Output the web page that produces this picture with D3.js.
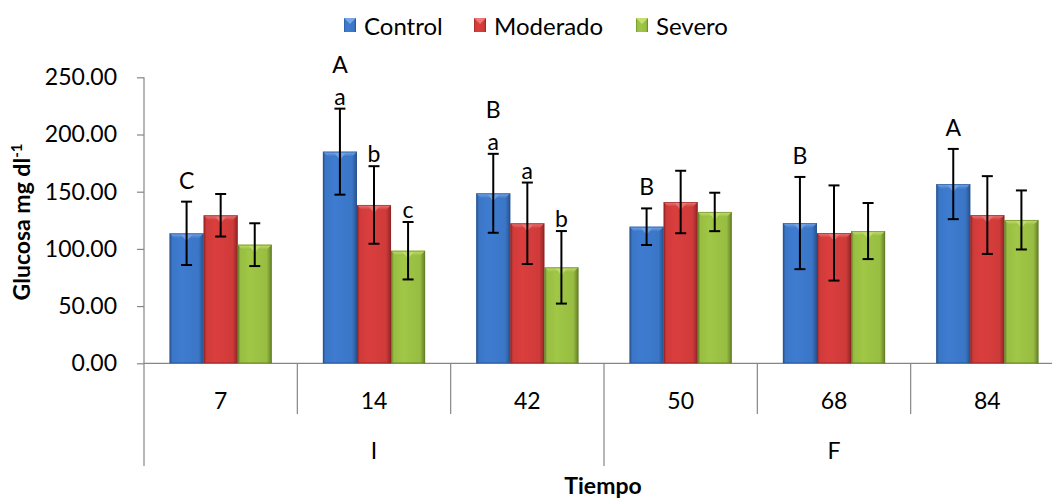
<!DOCTYPE html>
<html>
<head>
<meta charset="utf-8">
<script src="https://cdn.jsdelivr.net/npm/d3@7"></script>
<style>
  html, body { margin: 0; padding: 0; background: #fff; }
  svg { display: block; font-family: Lato, "Open Sans", sans-serif; }
</style>
</head>
<body>
<svg id="chart" width="1052" height="500"></svg>
<script>
// Glucose by sampling day and treatment
const categories = ["7", "14", "42", "50", "68", "84"];
const groups = [
  { label: "I", span: ["7", "14", "42"] },
  { label: "F", span: ["50", "68", "84"] }
];
const series = ["Control", "Moderado", "Severo"];

const control  = [113.6, 185.0, 148.6, 119.4, 122.6, 156.7];
const moderado = [129.4, 138.4, 122.4, 141.0, 113.9, 129.6];
const severo   = [103.7,  98.4,  83.9, 132.3, 115.6, 125.3];

const controlErr  = [27.7, 37.6, 34.5, 16.0, 40.3, 30.7];
const moderadoErr = [18.6, 33.9, 35.6, 27.3, 41.6, 34.0];
const severoErr   = [18.7, 25.1, 31.7, 16.8, 24.5, 25.8];

// Significance letters: upper case compares days, lower case compares treatments
const dayLetters   = ["C", "A", "B", "B", "B", "A"];
const controlSig   = ["", "a", "a", "", "", ""];
const moderadoSig  = ["", "b", "a", "", "", ""];
const severoSig    = ["", "c", "b", "", "", ""];

const yTicks = [0, 50, 100, 150, 200, 250];

const values = [control, moderado, severo];
const errors = [controlErr, moderadoErr, severoErr];
const sigs = [controlSig, moderadoSig, severoSig];

const palette = {
  Control:  { base: "#3b76c6", light: "#79a8ea", dark: "#27528f" },
  Moderado: { base: "#cf3b3a", light: "#ee7a77", dark: "#8f2525" },
  Severo:   { base: "#98bd42", light: "#c4e06e", dark: "#637f28" }
};

const svg = d3.select("#chart");
const plotLeft = 144, plotRight = 1064, plotTop = 77.3, plotBottom = 363.3;

const x = d3.scaleBand().domain(categories).range([plotLeft, plotRight])
  .paddingInner(1 / 3).paddingOuter(1 / 6);
const xs = d3.scaleBand().domain(series).range([0, x.bandwidth()]);
const y = d3.scaleLinear().domain([0, 250]).range([plotBottom, plotTop]);
const step = x.step();
const catLeft = c => x(c) - step / 6;

// Gradients for the bevelled bar faces
const defs = svg.append("defs");
series.forEach((s, i) => {
  const p = palette[s];
  const g = defs.append("linearGradient").attr("id", "face" + i)
    .attr("x1", "0").attr("x2", "1").attr("y1", "0").attr("y2", "0");
  g.append("stop").attr("offset", "0").attr("stop-color", p.dark);
  g.append("stop").attr("offset", "0.08").attr("stop-color", p.base);
  g.append("stop").attr("offset", "0.35").attr("stop-color", d3.color(p.base).brighter(0.15));
  g.append("stop").attr("offset", "0.85").attr("stop-color", p.base);
  g.append("stop").attr("offset", "1").attr("stop-color", p.dark);
  const t = defs.append("linearGradient").attr("id", "cap" + i)
    .attr("x1", "0").attr("x2", "0").attr("y1", "0").attr("y2", "1");
  t.append("stop").attr("offset", "0").attr("stop-color", p.light);
  t.append("stop").attr("offset", "1").attr("stop-color", p.base);
});

// Axes
const axisColor = "#868686";
const gAxis = svg.append("g");
gAxis.append("line").attr("x1", plotLeft).attr("x2", plotLeft).attr("y1", plotTop).attr("y2", 466)
  .attr("stroke", axisColor).attr("stroke-width", 1.2);
gAxis.append("line").attr("x1", plotLeft).attr("x2", plotRight).attr("y1", plotBottom).attr("y2", plotBottom)
  .attr("stroke", axisColor).attr("stroke-width", 1.2);

const yAxis = d3.axisLeft(y).tickValues(yTicks).tickSize(7).tickFormat(d3.format(".2f"));
const gy = svg.append("g").attr("transform", `translate(${plotLeft},0)`).call(yAxis);
gy.select(".domain").remove();
gy.selectAll(".tick line").attr("stroke", axisColor).attr("stroke-width", 1.2);
gy.selectAll(".tick text").attr("x", -27).attr("font-size", 23).attr("fill", "#000")
  .attr("font-family", "Lato, 'Open Sans', sans-serif");

// Category separators and labels
categories.forEach((c, i) => {
  if (i > 0) {
    const isGroupEdge = groups.some(g => g.span[0] === c);
    gAxis.append("line").attr("x1", catLeft(c)).attr("x2", catLeft(c))
      .attr("y1", plotBottom).attr("y2", isGroupEdge ? 466 : 414)
      .attr("stroke", axisColor).attr("stroke-width", 1.2);
  }
  svg.append("text").attr("x", x(c) + x.bandwidth() / 2).attr("y", 400)
    .attr("text-anchor", "middle").attr("dominant-baseline", "central")
    .attr("font-size", 23).text(c);
});
groups.forEach(g => {
  const a = catLeft(g.span[0]);
  const b = catLeft(g.span[g.span.length - 1]) + step;
  svg.append("text").attr("x", (a + b) / 2).attr("y", 450)
    .attr("text-anchor", "middle").attr("dominant-baseline", "central")
    .attr("font-size", 23).text(g.label);
});

svg.append("text").attr("x", 603).attr("y", 494).attr("text-anchor", "middle")
  .attr("font-size", 23).attr("font-weight", "bold").text("Tiempo");

const yTitle = svg.append("text")
  .attr("transform", "translate(30,222) rotate(-90)")
  .attr("text-anchor", "middle").attr("font-size", 23).attr("font-weight", "bold");
yTitle.append("tspan").text("Glucosa mg dl");
yTitle.append("tspan").attr("dy", -8).attr("font-size", 15).text("-1");

// Bars
series.forEach((s, si) => {
  const g = svg.append("g");
  categories.forEach((c, ci) => {
    const v = values[si][ci];
    const x0 = x(c) + xs(s), w = xs.bandwidth();
    const y0 = y(v), h = y(0) - y(v);
    const bev = 5;
    g.append("rect").attr("x", x0).attr("y", y0).attr("width", w).attr("height", h)
      .attr("fill", `url(#face${si})`);
    g.append("path")
      .attr("d", `M${x0},${y0}L${x0 + w},${y0}L${x0 + w - bev},${y0 + bev}L${x0 + bev},${y0 + bev}Z`)
      .attr("fill", `url(#cap${si})`);
    g.append("path")
      .attr("d", `M${x0 + w / 2 - 6},${y0 + 1}L${x0 + w / 2 + 6},${y0 + 1}L${x0 + w / 2},${y0 + bev + 3}Z`)
      .attr("fill", palette[s].light).attr("opacity", 0.8);
    g.append("rect").attr("x", x0 + 0.5).attr("y", y0 + 0.5).attr("width", w - 1).attr("height", h - 1)
      .attr("fill", "none").attr("stroke", palette[s].dark).attr("stroke-opacity", 0.6);
  });
});

// Error bars
series.forEach((s, si) => {
  categories.forEach((c, ci) => {
    const cx = x(c) + xs(s) + xs.bandwidth() / 2;
    const hi = y(values[si][ci] + errors[si][ci]);
    const lo = y(values[si][ci] - errors[si][ci]);
    const eb = svg.append("g").attr("stroke", "#000").attr("stroke-width", 2);
    eb.append("line").attr("x1", cx).attr("x2", cx).attr("y1", hi).attr("y2", lo);
    eb.append("line").attr("x1", cx - 5.5).attr("x2", cx + 5.5).attr("y1", hi).attr("y2", hi);
    eb.append("line").attr("x1", cx - 5.5).attr("x2", cx + 5.5).attr("y1", lo).attr("y2", lo);
  });
});

// Significance letters
categories.forEach((c, ci) => {
  let anchorTop = null;
  series.forEach((s, si) => {
    const letter = sigs[si][ci];
    const cx = x(c) + xs(s) + xs.bandwidth() / 2;
    const errTop = y(values[si][ci] + errors[si][ci]);
    if (letter) {
      const cy = errTop - 13;
      svg.append("text").attr("x", cx).attr("y", cy).attr("text-anchor", "middle")
        .attr("dominant-baseline", "central").attr("font-size", 23).text(letter);
      if (si === 0) anchorTop = cy - 32;
    }
  });
  const cx0 = x(c) + xs(series[0]) + xs.bandwidth() / 2;
  const cy0 = anchorTop !== null ? anchorTop : y(values[0][ci] + errors[0][ci]) - 22;
  svg.append("text").attr("x", cx0).attr("y", cy0).attr("text-anchor", "middle")
    .attr("dominant-baseline", "central").attr("font-size", 23).text(dayLetters[ci]);
});

// Legend
const legendX = [344, 474, 636];
series.forEach((s, si) => {
  const lg = svg.append("g").attr("transform", `translate(${legendX[si]},18)`);
  lg.append("rect").attr("width", 12).attr("height", 14).attr("fill", `url(#face${si})`);
  lg.append("path").attr("d", "M0,0L12,0L6,6Z").attr("fill", palette[s].light);
  lg.append("text").attr("x", 20).attr("y", 7).attr("dominant-baseline", "central")
    .attr("font-size", 24).text(s);
});
</script>
</body>
</html>
